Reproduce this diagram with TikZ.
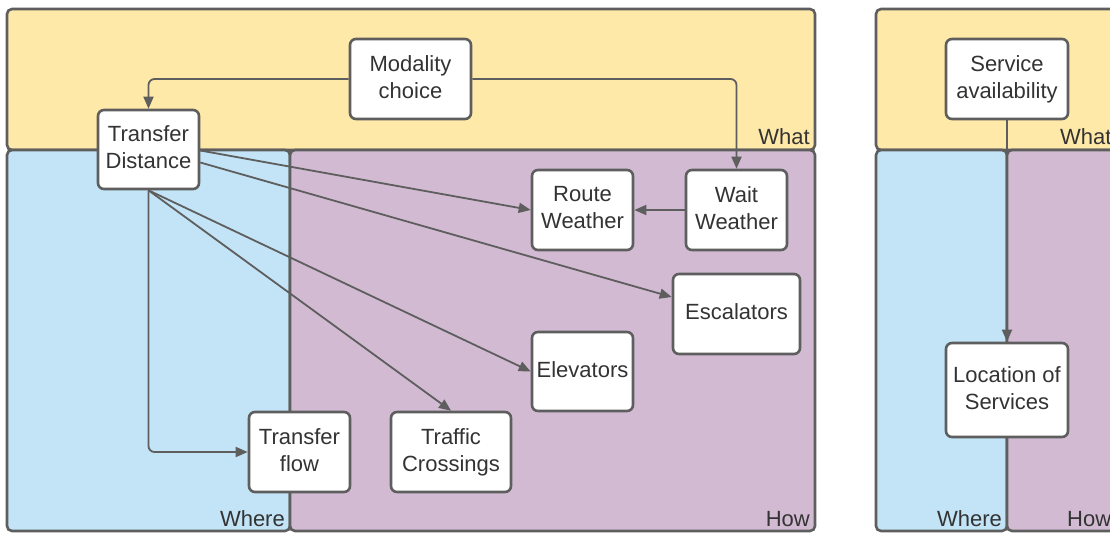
\documentclass[tikz,border=0pt]{standalone}
\usepackage{fontspec}
\setmainfont{Liberation Sans}
\usetikzlibrary{arrows.meta,positioning,calc}
\definecolor{lineGray}{RGB}{94,94,94}
\definecolor{textGray}{RGB}{51,51,51}
\definecolor{whatYellow}{RGB}{255,233,168}
\definecolor{whereBlue}{RGB}{194,228,246}
\definecolor{howPurple}{RGB}{210,187,210}

\begin{document}
\begin{tikzpicture}[x=1pt,y=-1pt,
        lane/.style={draw=lineGray,line width=2.6pt,rounded corners=5pt},
        lanelabel/.style={font=\fontsize{22}{26}\selectfont,text=textGray,inner sep=0pt},
        box/.style={draw=lineGray,fill=white,line width=2.6pt,rounded corners=6pt,align=center,
          font=\fontsize{22}{27}\selectfont,text=textGray,minimum width=101pt,minimum height=80pt,inner sep=2pt,
          execute at end node={\rule[-4.7pt]{0pt}{0pt}}},
        arrow/.style={-{Triangle[length=12pt,width=10pt]},line width=1.8pt,draw=lineGray,rounded corners=6pt}
      ]
        \useasboundingbox (0,0) rectangle (1110,533);
        \clip (0,0) rectangle (1110,533);
        % left panel
        \draw[lane,fill=whatYellow] (7,9) rectangle (815,150);
        \draw[lane,fill=whereBlue] (7,150) rectangle (290,531);
        \draw[lane,fill=howPurple] (290,150) rectangle (815,531);
        \node[lanelabel,anchor=south east] (what1) at (810,145) {What};
        \node[lanelabel,anchor=south east] (where1) at (285,527) {Where};
        \node[lanelabel,anchor=south east] (how1) at (810,527) {How};
        % right panel
        \draw[lane,fill=whatYellow] (876,9) rectangle (1130,150);
        \draw[lane,fill=whereBlue] (876,150) rectangle (1007,531);
        \draw[lane,fill=howPurple] (1007,150) rectangle (1130,531);
        \node[lanelabel,anchor=south west] (what2) at (1060,145) {What};
        \node[lanelabel,anchor=south east] (where2) at (1002,527) {Where};
        \node[lanelabel,anchor=south west] (how2) at (1067,527) {How};

        \node[box,minimum width=121pt] (mc) at (410.5,79) {Modality\\choice};
        \node[box,minimum height=79pt] (td) at (148.5,149.5) {Transfer\\Distance};
        \node[box] (rw) at (582.5,210) {Route\\Weather};
        \node[box] (ww) at (736.5,210) {Wait\\Weather};
        \node[box,minimum width=127pt] (esc) at (736.5,314) {Escalators};
        \node[box,minimum height=79pt] (el) at (582.5,371.5) {Elevators};
        \node[box] (tf) at (299.5,452) {Transfer\\flow};
        \node[box,minimum width=120pt] (tc) at (451,452) {Traffic\\Crossings};
        \node[box,minimum width=122pt] (sa) at (1007,79) {Service\\availability};
        \node[box,minimum width=122pt,minimum height=94pt] (ls) at (1007,390) {Location of\\Services};

        \draw[arrow] (mc.west) -| (td.north);
        \draw[arrow] (mc.east) -| (ww.north);
        \draw[arrow] (ww.west) -- (rw.east);
        \draw[arrow] ([yshift=-1pt]td.east) -- (rw.west);
        \draw[arrow] ([yshift=-13pt]td.east) -- ([yshift=17pt]esc.west);
        \draw[arrow] (td.south) -- (el.west);
        \draw[arrow] (td.south) -- (tc.north);
        \draw[arrow] (td.south) |- (tf.west);
        \draw[arrow] (sa.south) -- (ls.north);
      \end{tikzpicture}
\end{document}
